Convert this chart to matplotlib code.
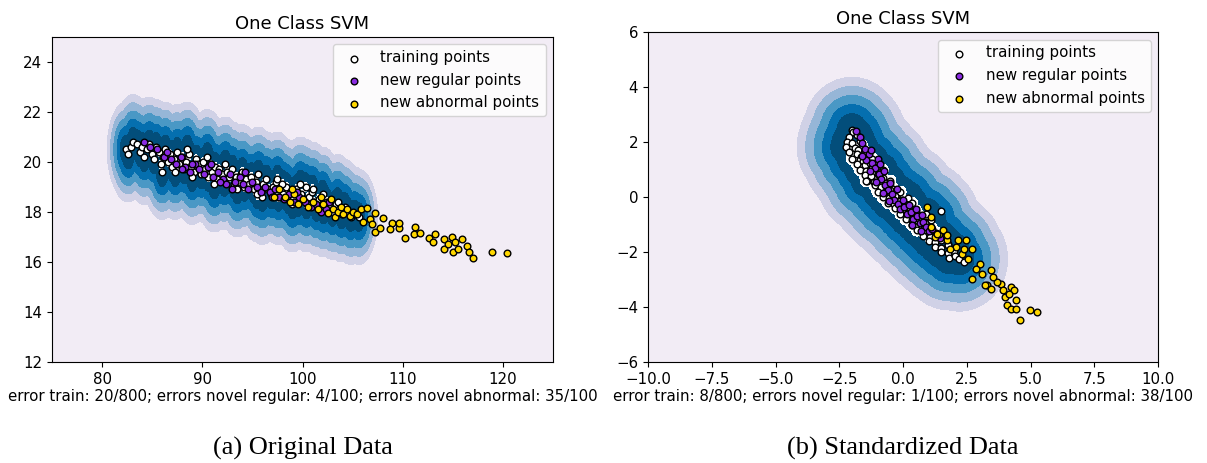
import numpy as np
import matplotlib.pyplot as plt

# ---- datos originales ----
train_x = [82.4, 82.6, 82.9, 83.1, 83.5, 83.8, 84.0, 84.2, 84.5, 84.7, 85.0, 85.2, 85.4, 85.7, 85.9,
           86.1, 86.3, 86.6, 86.8, 87.0, 87.2, 87.5, 87.7, 88.0, 88.2, 88.4, 88.7, 88.9, 89.2, 89.4,
           89.6, 89.9, 90.1, 90.3, 90.6, 90.8, 91.0, 91.3, 91.5, 91.7, 92.0, 92.2, 92.5, 92.7, 93.0,
           93.2, 93.4, 93.7, 93.9, 94.2, 94.4, 94.7, 94.9, 95.2, 95.4, 95.6, 95.9, 96.1, 96.4, 96.6,
           96.9, 97.1, 97.4, 97.6, 97.9, 98.1, 98.4, 98.6, 98.9, 99.1, 99.4, 99.6, 99.9, 100.1, 100.4,
           100.6, 100.9, 101.1, 101.4, 101.6, 101.9, 102.1, 102.4, 102.7, 103.0, 103.3, 103.6, 103.9,
           104.2, 104.5, 104.8, 105.2, 105.6, 86.0, 89.0, 91.2, 96.0, 97.5, 99.0, 101.0, 102.0, 100.3,
           94.0, 92.3, 88.5, 98.0, 95.5, 90.5, 87.3, 93.5, 103.5, 99.8]
train_y = [20.5, 20.3, 20.6, 20.8, 20.7, 20.4, 20.6, 20.2, 20.5, 20.7, 20.3, 20.1, 20.6, 20.4, 19.9,
           20.2, 20.5, 20.0, 20.3, 19.8, 20.1, 20.4, 19.9, 20.2, 19.7, 20.0, 20.3, 19.8, 19.6, 20.1,
           19.9, 19.5, 20.0, 19.7, 19.4, 19.9, 19.6, 19.8, 19.3, 19.7, 19.5, 19.2, 19.6, 19.4, 19.7,
           19.1, 19.4, 19.2, 19.5, 19.0, 19.3, 19.1, 19.4, 18.9, 19.2, 19.5, 18.8, 19.1, 19.3, 18.9,
           18.7, 19.0, 19.2, 18.6, 18.9, 18.7, 19.0, 18.5, 18.8, 18.6, 18.9, 18.4, 18.7, 18.5, 18.3,
           18.6, 18.8, 18.4, 18.2, 18.5, 18.3, 18.1, 18.4, 18.2, 18.0, 18.3, 18.1, 17.9,
           18.2, 18.0, 17.8, 17.9, 17.8, 19.6, 19.4, 19.1, 18.6, 19.3, 18.3, 18.9, 18.7, 19.0,
           19.6, 19.9, 20.5, 19.1, 18.7, 20.2, 19.6, 18.9, 18.4, 19.1]

reg_x = [84.2, 84.8, 85.5, 86.2, 86.9, 87.4, 87.9, 88.3, 88.8, 89.3, 89.7, 90.2, 90.6, 91.1, 91.6,
         92.1, 92.4, 92.8, 93.3, 93.8, 94.1, 94.6, 95.0, 95.5, 95.9, 96.3, 96.8, 97.3, 97.7, 98.2,
         98.7, 99.2, 99.7, 100.2, 100.8, 101.3, 101.8, 102.3, 102.6, 89.0, 90.9, 93.0, 86.5, 94.3,
         97.0, 99.5, 88.0, 91.8]
reg_y = [20.8, 20.6, 20.5, 20.2, 20.1, 19.9, 20.2, 19.8, 19.6, 19.9, 19.7, 19.5, 19.8, 19.4, 19.6,
         19.3, 19.1, 19.5, 19.2, 19.4, 19.1, 18.9, 19.2, 19.0, 18.8, 19.0, 18.8, 18.9, 18.6, 18.5,
         18.7, 18.4, 18.6, 18.4, 18.2, 18.3, 18.0, 18.1, 18.4, 19.9, 19.9, 18.9, 20.4, 19.6,
         18.6, 18.8, 19.7, 19.2]

abn_x = [97.7, 98.3, 98.8, 99.2, 99.6, 100.0, 100.5, 101.0, 101.5, 102.0, 102.5, 103.0, 103.2, 103.5,
         103.8, 104.0, 104.4, 104.7, 105.0, 105.4, 105.8, 102.8, 101.8, 99.0, 97.2, 106.0,
         106.4, 107.2, 108.0, 108.9, 109.6, 107.2, 110.2, 111.2, 111.1, 111.7, 112.6, 113.2, 113.0,
         114.1, 114.1, 114.9, 114.5, 115.2, 115.0, 115.5, 115.9, 116.4, 116.6, 117.0, 118.9, 120.4,
         108.7, 109.6, 107.7, 106.7, 106.9]
abn_y = [18.9, 18.6, 18.4, 18.7, 18.3, 18.5, 18.2, 18.4, 18.1, 18.3, 17.95, 18.1, 17.8, 18.0,
         18.2, 17.9, 18.1, 17.85, 18.0, 17.9, 18.1, 18.5, 18.6, 18.9, 18.6, 17.6,
         18.15, 17.95, 17.75, 17.55, 17.35, 17.2, 16.95, 17.4, 17.1, 17.15, 16.95, 17.1, 16.8,
         16.9, 16.5, 17.0, 16.7, 16.8, 16.4, 16.5, 16.9, 16.65, 16.4, 16.15, 16.4, 16.35,
         17.3, 17.55, 17.35, 17.7, 17.5]

# ---- datos estandarizados ----
train_xs = [-2.0, -1.95, -2.1, -1.8, -2.2, -2.0, -1.7, -2.25, -1.9, -1.6, -1.75, -2.1, -1.8, -1.5,
            -1.65, -2.0, -1.7, -1.4, -1.55, -1.2, -1.8, -1.5, -1.3, -1.1, -1.7, -1.45, -1.2, -0.95,
            -0.8, -1.5, -1.25, -1.0, -0.8, -1.4, -1.15, -0.9, -0.65, -0.5, -1.1, -0.85, -0.6, -0.4,
            -1.0, -0.75, -0.5, -0.25, -0.1, -0.8, -0.55, -0.3, -0.05, 0.2, -0.6, -0.35, -0.1, 0.15,
            0.35, -0.3, 0.0, 0.25, 0.5, -0.1, 0.15, 0.4, 0.65, 0.9, 0.1, 0.35, 0.6, 0.85, 1.1, 0.35,
            0.6, 0.85, 1.1, 0.55, 0.8, 1.05, 1.3, 0.8, 1.05, 1.3, 1.55, 1.0, 1.25, 1.5, 1.75, 1.25,
            1.5, 1.75, 2.0, 1.5, 1.75, 2.0, 1.8, 2.05, 2.2, 1.5, 2.4, -1.45]
train_ys = [2.45, 2.38, 2.2, 2.25, 2.0, 1.95, 2.05, 1.82, 1.78, 1.85, 1.7, 1.62, 1.55, 1.65,
            1.45, 1.4, 1.35, 1.45, 1.3, 1.38, 1.2, 1.15, 1.25, 1.1, 1.0, 0.95, 1.05, 0.92,
            0.98, 0.8, 0.75, 0.85, 0.7, 0.6, 0.55, 0.65, 0.5, 0.58, 0.42, 0.35, 0.45, 0.3,
            0.2, 0.15, 0.25, 0.1, 0.18, 0.0, -0.05, 0.05, -0.1, -0.02, -0.2, -0.25, -0.15, -0.3,
            -0.22, -0.4, -0.45, -0.35, -0.5, -0.6, -0.65, -0.55, -0.7, -0.62, -0.8, -0.85, -0.75,
            -0.9, -0.82, -1.0, -1.05, -0.95, -1.1, -1.2, -1.25, -1.15, -1.3, -1.4, -1.45, -1.35,
            -1.5, -1.6, -1.65, -1.55, -1.7, -1.8, -1.85, -1.75, -1.9, -2.0, -2.05, -1.95, -2.2,
            -2.15, -2.25, -0.5, -2.35, 0.6]

reg_xs = [-1.85, -1.7, -1.6, -1.5, -1.35, -1.45, -1.2, -1.1, -1.3, -0.95, -0.85, -1.05, -0.7, -0.6,
          -0.8, -0.45, -0.35, -0.55, -0.2, -0.1, 0.05, 0.15, 0.3, 0.4, 0.55, 0.65, 0.8, 0.9, 1.0,
          1.15, 1.3, 1.45, -1.25, -1.0, -0.75, -0.5, -0.25, 0.0, 0.25, 0.5, 0.75, -1.6, -0.9,
          0.35, 0.7]
reg_ys = [2.4, 2.2, 1.95, 1.75, 1.55, 1.35, 1.25, 1.05, 0.95, 0.85, 0.65, 0.55, 0.45, 0.25,
          0.15, 0.1, -0.1, -0.15, -0.25, -0.45, -0.35, -0.6, -0.55, -0.8, -0.7, -0.95, -0.9, -1.1,
          -1.25, -1.15, -1.4, -1.5, 1.7, 1.4, 0.95, 0.5, 0.3, -0.1, -0.3, -0.45, -0.65, 1.5, 1.2,
          -1.0, -1.25]

abn_xs = [0.95, 1.1, 1.71, 2.47, 2.7, 3.0, 2.7, 3.46, 3.31, 3.84, 4.22, 4.37, 3.99, 4.45, 4.07,
          4.22, 4.45, 4.57, 4.98, 5.25, 3.46, 3.23, 3.08, 2.85, 2.32, 2.09, 2.17, 1.41, 1.25, 1.56,
          1.86, 2.39, 2.55, 3.69, 3.54, 3.92, 4.14, 1.71, 1.1, 1.33]
abn_ys = [-0.36, -1.09, -1.58, -1.58, -1.88, -2.42, -2.97, -2.67, -3.21, -3.15, -3.27, -3.39,
          -3.64, -3.76, -3.94, -4.06, -4.06, -4.48, -4.12, -4.18, -3.33, -3.21, -2.79, -2.61,
          -2.06, -1.82, -1.58, -1.33, -1.45, -1.21, -1.88, -1.88, -2.24, -3.09, -2.91, -3.39,
          -3.52, -1.39, -0.73, -1.33]

FS = 10.8
# bordes de las bandas: distancia a los puntos de entrenamiento
bandas = [1.9, 1.57, 1.24, 0.91, 0.58]
colores = [plt.cm.PuBu((i + 0.5) / 6) for i in range(6)]


def distancia(xx, yy, px, py):
    d = np.full(xx.shape, np.inf)
    for a, b in zip(px, py):
        d = np.minimum(d, np.hypot(xx - a, yy - b))
    return d


def frontera(ax, tx, ty, xlim, ylim, frac, radio, aislado):
    tx = np.array(tx)
    ty = np.array(ty)
    xx, yy = np.meshgrid(np.linspace(xlim[0], xlim[1], 400), np.linspace(ylim[0], ylim[1], 400))
    # los puntos aislados (tercer vecino lejos) quedan fuera de la frontera
    dd = np.hypot(tx[:, None] - tx[None, :], ty[:, None] - ty[None, :])
    vecino3 = np.sort(dd, axis=1)[:, 3]
    dentro = vecino3 < aislado
    Z = -distancia(xx, yy, tx[dentro], ty[dentro])
    niveles = [Z.min()] + [-b for b in bandas] + [1e-9]
    ax.contourf(xx, yy, Z, levels=niveles, colors=colores)
    # zona interior (blanca): alrededor de los puntos mas densos
    dens = np.array([np.exp(-2.0 * ((tx - a) ** 2 + (ty - b) ** 2)).sum() for a, b in zip(tx, ty)])
    nucleo = dens >= np.quantile(dens, frac)
    Zc = -distancia(xx, yy, tx[nucleo], ty[nucleo])
    ax.contourf(xx, yy, Zc, levels=[-radio, 1e-9], colors='white')


def panel(ax, tx, ty, rx, ry, nx, ny, xlim, ylim, texto, frac, radio, aislado):
    frontera(ax, tx, ty, xlim, ylim, frac, radio, aislado)
    s = 23
    b1 = ax.scatter(tx, ty, c='white', s=s, edgecolors='k')
    b2 = ax.scatter(rx, ry, c='blueviolet', s=s, edgecolors='k')
    c = ax.scatter(nx, ny, c='gold', s=s, edgecolors='k')
    ax.set_xlim(xlim)
    ax.set_ylim(ylim)
    ax.set_title("One Class SVM", fontsize=12.9)
    ax.legend([b1, b2, c], ["training points", "new regular points", "new abnormal points"],
              loc="upper right", fontsize=FS)
    ax.set_xlabel(texto, fontsize=FS, labelpad=2)
    ax.tick_params(labelsize=FS)


fig = plt.figure(figsize=(12.07, 4.63), dpi=100)
ax1 = fig.add_axes([52 / 1207, 101 / 463, 501 / 1207, 325 / 463])
ax2 = fig.add_axes([648 / 1207, 101 / 463, 510 / 1207, 330 / 463])

panel(ax1, train_x, train_y, reg_x, reg_y, abn_x, abn_y, (75, 125), (12, 25),
      "error train: 20/800; errors novel regular: 4/100; errors novel abnormal: 35/100",
      0.4, 0.2, 1.5)
panel(ax2, train_xs, train_ys, reg_xs, reg_ys, abn_xs, abn_ys, (-10, 10), (-6, 6),
      "error train: 8/800; errors novel regular: 1/100; errors novel abnormal: 38/100",
      0.3, 0.22, 0.45)

fig.text(303 / 1207, 1 - 448 / 463, "(a) Original Data", ha='center', va='center',
         family='Liberation Serif', fontsize=19)
fig.text(903 / 1207, 1 - 448 / 463, "(b) Standardized Data", ha='center', va='center',
         family='Liberation Serif', fontsize=19)

plt.savefig("out.png")
